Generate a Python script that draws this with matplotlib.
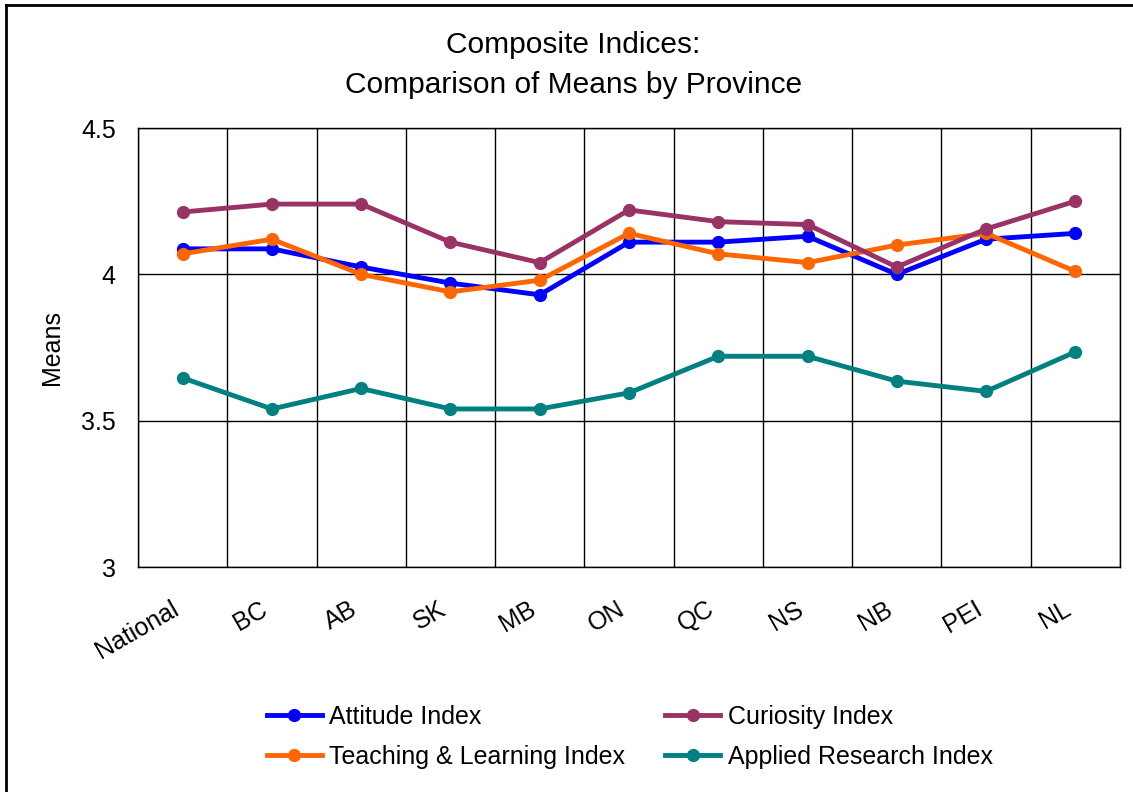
import matplotlib
matplotlib.use("Agg")
import matplotlib.pyplot as plt
import numpy as np
from matplotlib.lines import Line2D
from matplotlib.transforms import ScaledTranslation

plt.rcParams["font.family"] = ["Liberation Sans", "DejaVu Sans"]

provinces = ["National", "BC", "AB", "SK", "MB", "ON", "QC", "NS", "NB", "PEI", "NL"]
attitude = [4.087, 4.087, 4.025, 3.97, 3.93, 4.11, 4.11, 4.13, 4.00, 4.12, 4.14]
curiosity = [4.213, 4.24, 4.24, 4.11, 4.04, 4.22, 4.18, 4.17, 4.025, 4.155, 4.25]
teaching = [4.07, 4.12, 4.00, 3.94, 3.98, 4.14, 4.07, 4.04, 4.10, 4.14, 4.01]
applied = [3.646, 3.54, 3.61, 3.54, 3.54, 3.595, 3.72, 3.72, 3.635, 3.60, 3.735]

# order chosen so the 2-column legend reads row-wise like the original
series = [
    ("Attitude Index", attitude, "#0000FF"),
    ("Teaching & Learning Index", teaching, "#FF6600"),
    ("Curiosity Index", curiosity, "#993366"),
    ("Applied Research Index", applied, "#008080"),
]

W, H = 1133, 792
fig = plt.figure(figsize=(W / 100, H / 100), dpi=100)
ax = fig.add_axes([138 / W, 1 - 567 / H, 982 / W, 439 / H])

x = np.arange(len(provinces))
for name, vals, col in series:
    ax.plot(x, vals, color=col, lw=3.5, marker="o", ms=8.5, label=name)

ax.set_xlim(-0.5, len(provinces) - 0.5)
ax.set_ylim(3, 4.5)
ax.set_yticks([3, 3.5, 4, 4.5])
ax.set_yticklabels(["3", "3.5", "4", "4.5"])
ax.set_xticks(x)
ax.set_xticklabels(provinces, rotation=30, ha="right", rotation_mode="anchor")
ax.set_xticks(np.arange(len(provinces) + 1) - 0.5, minor=True)
ax.tick_params(axis="both", which="both", length=0, labelsize=18)
ax.tick_params(axis="y", pad=16)
ax.tick_params(axis="x", pad=20)
shift = ScaledTranslation(-0.12, -0.02, fig.dpi_scale_trans)
for lab in ax.get_xticklabels():
    lab.set_transform(lab.get_transform() + shift)
ax.grid(True, axis="x", which="minor", color="black", lw=1)
ax.grid(True, axis="y", which="major", color="black", lw=1)
ax.set_axisbelow(True)
for s in ax.spines.values():
    s.set_color("black")
    s.set_linewidth(1)
ax.set_ylabel("Means", fontsize=18, labelpad=12)

fig.text(0.506, 1 - 45 / H, "Composite Indices:", ha="center", va="center", fontsize=21.5)
fig.text(0.506, 1 - 85 / H, "Comparison of Means by Province", ha="center", va="center", fontsize=21.5)

ax.legend(loc="center", bbox_to_anchor=(630 / W, 1 - 737 / H), bbox_transform=fig.transFigure,
          ncol=2, frameon=False, fontsize=18, handlelength=2.2, columnspacing=1.6,
          labelspacing=0.65, handletextpad=0.3)

fig.add_artist(Line2D([6 / W, 6 / W], [0, 1 - 5 / H], color="black", lw=2, transform=fig.transFigure))
fig.add_artist(Line2D([6 / W, 1], [1 - 5 / H, 1 - 5 / H], color="black", lw=2, transform=fig.transFigure))

fig.savefig("out.png", dpi=100)
